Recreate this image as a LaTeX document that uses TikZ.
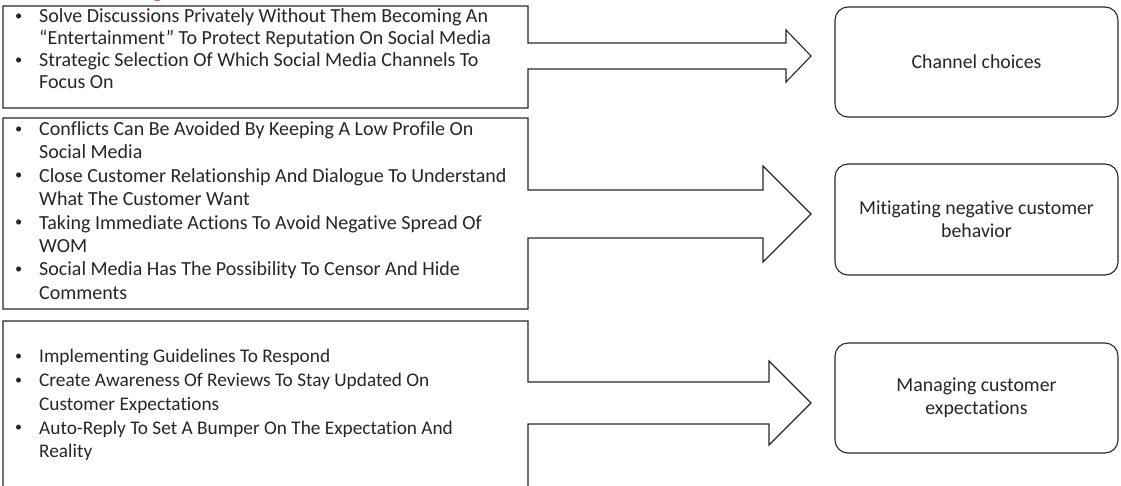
\documentclass[tikz,border=0pt]{standalone}
\usepackage{fontspec}
\setmainfont[Ligatures=NoCommon]{Carlito}
\newfontfamily\titleserif{Liberation Serif}
\newcommand\bul{\makebox[25pt][l]{\hspace*{1pt}\raisebox{0.12em}{\scalebox{0.72}{•}}}}
\newcommand\ind{\hspace*{25pt}}
\begin{document}
\begin{tikzpicture}[x=1pt,y=-1pt,
  outline/.style={draw=black!85, line width=1.1pt, line join=miter},
  goal/.style={draw=black!85, line width=1.1pt, rounded corners=13pt,
    minimum width=283pt, minimum height=110pt, align=center,
    font=\fontsize{19.8}{23.5}\selectfont, text=black!85},
  items/.style={anchor=north west, align=left, inner sep=0pt, text=black!85}]
\useasboundingbox (0,0) rectangle (1121,485);

% heading above the picture, only its descender shows
\node[anchor=base west, inner sep=0pt, text=red!85!black,
  font=\titleserif\fontsize{22}{22}\selectfont] (head) at (152,-4) {g};

% bordered lists with their block arrows
\draw[outline] (3,6) -- (528,6) -- (528,43) -- (786,43) -- (786,30)
  -- (811,56) -- (786,82) -- (786,69) -- (528,69) -- (528,108)
  -- (3,108) -- cycle;
\draw[outline] (3,118) -- (528,118) -- (528,190) -- (763,190) -- (763,166)
  -- (811,214) -- (763,262) -- (763,238) -- (528,238) -- (528,309)
  -- (3,309) -- cycle;
\draw[outline] (3,321) -- (528,321) -- (528,382) -- (769,382) -- (769,361)
  -- (811,403) -- (769,445) -- (769,424) -- (528,424) -- (528,500)
  -- (3,500) -- cycle;

\node[items, font=\fontsize{20}{22}\selectfont] (l1) at (14,8.5) {%
\bul Solve Discussions Privately Without Them Becoming An\\
\ind “Entertainment” To Protect Reputation On Social Media\\
\bul Strategic Selection Of Which Social Media Channels To\\
\ind Focus On};

\node[items, font=\fontsize{20}{23.4}\selectfont] (l2) at (14,121.5) {%
\bul Conflicts Can Be Avoided By Keeping A Low Profile On\\
\ind Social Media\\
\bul Close Customer Relationship And Dialogue To Understand\\
\ind What The Customer Want\\
\bul Taking Immediate Actions To Avoid Negative Spread Of\\
\ind WOM\\
\bul Social Media Has The Possibility To Censor And Hide\\
\ind Comments};

\node[items, font=\fontsize{19.3}{23.8}\selectfont] (l3) at (14,349) {%
\bul Implementing Guidelines To Respond\\
\bul Create Awareness Of Reviews To Stay Updated On\\
\ind Customer Expectations\\
\bul Auto-Reply To Set A Bumper On The Expectation And\\
\ind Reality};

% outcome boxes
\node[goal] (g1) at (976.5,62) {Channel choices};
\node[goal, minimum height=111pt] (g2) at (976.5,219.5) {Mitigating negative customer\\behavior};
\node[goal] (g3) at (976.5,398) {Managing customer\\expectations};
\end{tikzpicture}
\end{document}
